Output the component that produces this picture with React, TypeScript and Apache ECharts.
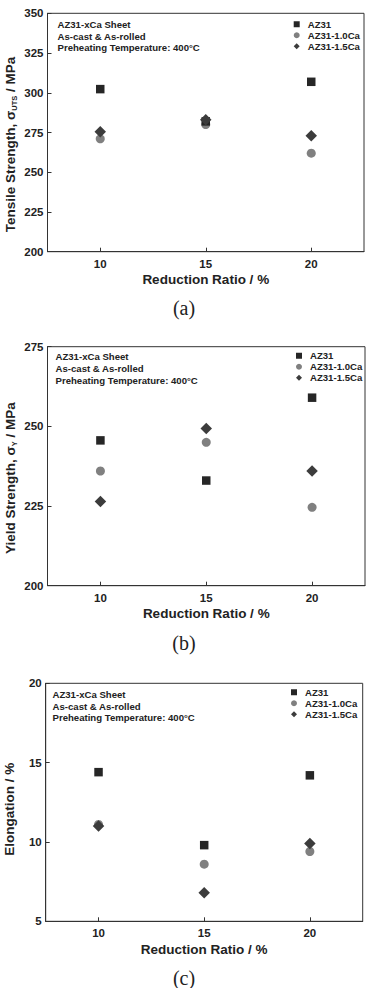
import React, { useEffect, useRef } from "react";
import * as echarts from "echarts";

// Reduction ratio (%) on the x axis, shared by the three panels
const reductionRatios = [10, 15, 20];
const alloyNames = ["AZ31", "AZ31-1.0Ca", "AZ31-1.5Ca"];

// (a) tensile strength, MPa
const tensileAZ31 = [302.3, 282, 306.9];
const tensileCa10 = [271, 280, 262];
const tensileCa15 = [275.5, 283, 273];

// (b) yield strength, MPa
const yieldAZ31 = [245.6, 233, 259];
const yieldCa10 = [236, 245, 224.6];
const yieldCa15 = [226.4, 249.3, 236];

// (c) elongation, %
const elongAZ31 = [14.4, 9.8, 14.2];
const elongCa10 = [11.1, 8.6, 9.4];
const elongCa15 = [11.0, 6.8, 9.9];

// y-axis ranges: [min, max, interval]
const tensileRange = [200, 350, 25];
const yieldRange = [200, 275, 25];
const elongRange = [5, 20, 5];

const noteLines = ["AZ31-xCa Sheet", "As-cast & As-rolled", "Preheating Temperature: 400°C"];
const captions = ["(a)", "(b)", "(c)"];
const xTitle = "Reduction Ratio / %";

const SANS = "'Liberation Sans', Arial, Helvetica, sans-serif";
const INK = "#222";
const AXIS = "#333";

const symbols = ["rect", "circle", "diamond"];
const symbolSizes = [8.5, 9, 11.5];
const markColors = ["#262626", "#808080", "#3c3c3c"];

type Panel = {
  grid: { left: number; top: number; width: number; height: number };
  range: number[];
  yName: string;
  nameGap: number;
  nameShift: number;
  values: number[][];
  note: { x: number; y: number };
  legend: { left: number; top: number };
  captionY: number;
};

const panels: Panel[] = [
  {
    grid: { left: 47.5, top: 13.3, width: 316.5, height: 238.4 },
    range: tensileRange,
    yName: "Tensile Strength, σ{sub|UTS} / MPa",
    nameGap: 29.5,
    nameShift: 24,
    values: [tensileAZ31, tensileCa10, tensileCa15],
    note: { x: 57.5, y: 24.3 },
    legend: { left: 293.7, top: 19 },
    captionY: 308,
  },
  {
    grid: { left: 47.5, top: 346.7, width: 317.5, height: 239 },
    range: yieldRange,
    yName: "Yield Strength, σ{sub|Y} / MPa",
    nameGap: 29.5,
    nameShift: 24,
    values: [yieldAZ31, yieldCa10, yieldCa15],
    note: { x: 55.5, y: 356.7 },
    legend: { left: 296, top: 350.5 },
    captionY: 643,
  },
  {
    grid: { left: 45.7, top: 683.3, width: 317, height: 238 },
    range: elongRange,
    yName: "Elongation / %",
    nameGap: 28,
    nameShift: 14,
    values: [elongAZ31, elongCa10, elongCa15],
    note: { x: 52.5, y: 694.3 },
    legend: { left: 291, top: 687 },
    captionY: 978,
  },
];

function buildOption() {
  const grid: any[] = [];
  const xAxis: any[] = [];
  const yAxis: any[] = [];
  const series: any[] = [];
  const legend: any[] = [];
  const graphic: any[] = [];

  panels.forEach((p, i) => {
    grid.push({
      ...p.grid,
      containLabel: false,
      outerBoundsMode: "none",
      show: true,
      borderColor: AXIS,
      borderWidth: 1,
      backgroundColor: "transparent",
    });

    xAxis.push({
      type: "value",
      gridIndex: i,
      min: 7.5,
      max: 22.5,
      name: xTitle,
      nameLocation: "middle",
      nameGap: 21,
      nameTextStyle: { fontFamily: SANS, fontWeight: "bold", fontSize: 13.5, color: INK },
      axisLine: { show: true, lineStyle: { color: AXIS, width: 1 } },
      axisTick: { show: true, inside: true, length: 4, customValues: reductionRatios, lineStyle: { color: AXIS } },
      axisLabel: {
        customValues: reductionRatios,
        margin: 6,
        fontFamily: SANS,
        fontWeight: "bold",
        fontSize: 11.5,
        color: INK,
      },
      splitLine: { show: false },
    });

    yAxis.push({
      type: "value",
      gridIndex: i,
      min: p.range[0],
      max: p.range[1],
      interval: p.range[2],
      name: p.yName,
      nameLocation: "middle",
      nameGap: p.nameGap,
      nameMoveOverlap: false,
      nameTextStyle: {
        fontFamily: SANS,
        fontWeight: "bold",
        fontSize: 13.5,
        lineHeight: 16,
        color: INK,
        // extra room on the text's trailing side nudges the centred title downwards
        padding: [0, p.nameShift, 0, 0],
        rich: {
          sub: {
            fontFamily: SANS,
            fontWeight: "bold",
            fontSize: 7.5,
            lineHeight: 16,
            color: INK,
            verticalAlign: "bottom",
          },
        },
      },
      axisLine: { show: true, lineStyle: { color: AXIS, width: 1 } },
      axisTick: { show: true, inside: true, length: 4, lineStyle: { color: AXIS } },
      axisLabel: {
        margin: 4,
        fontFamily: SANS,
        fontWeight: "bold",
        fontSize: 11.5,
        color: INK,
      },
      splitLine: { show: false },
    });

    alloyNames.forEach((name, k) => {
      series.push({
        type: "scatter",
        name,
        xAxisIndex: i,
        yAxisIndex: i,
        symbol: symbols[k],
        symbolSize: symbolSizes[k],
        itemStyle: { color: markColors[k], opacity: 1 },
        z: k === 1 ? 2 : k === 0 ? 3 : 4,
        data: reductionRatios.map((r, j) => [r, p.values[k][j]]),
      });
    });

    legend.push({
      orient: "vertical",
      left: p.legend.left,
      top: p.legend.top,
      padding: 0,
      itemWidth: 6,
      itemHeight: 6,
      itemGap: 0.5,
      selectedMode: false,
      data: alloyNames.map((name, k) => ({
        name,
        icon: symbols[k],
        itemStyle: { color: markColors[k] },
      })),
      textStyle: {
        fontFamily: SANS,
        fontWeight: "bold",
        fontSize: 9.6,
        color: INK,
        lineHeight: 10.5,
        padding: [0, 0, 0, 3],
      },
    });

    noteLines.forEach((line, n) => {
      graphic.push({
        type: "text",
        x: p.note.x,
        y: p.note.y + n * 11.8,
        style: {
          text: line,
          fontFamily: SANS,
          fontWeight: "bold",
          fontSize: 9.6,
          fill: INK,
          textAlign: "left",
          textVerticalAlign: "middle",
        },
      });
    });

    graphic.push({
      type: "text",
      x: 184,
      y: p.captionY,
      style: {
        text: captions[i],
        fontFamily: "'Liberation Serif', 'Times New Roman', serif",
        fontSize: 20,
        fill: INK,
        textAlign: "center",
        textVerticalAlign: "middle",
      },
    });
  });

  return {
    animation: false,
    backgroundColor: "#fff",
    grid,
    xAxis,
    yAxis,
    series,
    legend,
    graphic,
  };
}

export default function App() {
  const ref = useRef<HTMLDivElement>(null);

  useEffect(() => {
    if (!ref.current) return;
    const chart = echarts.init(ref.current, null, { renderer: "svg" });
    chart.setOption(buildOption() as any);
    return () => chart.dispose();
  }, []);

  return (
    <div
      ref={ref}
      style={{ position: "fixed", left: 0, top: 0, width: 368, height: 988, background: "#fff" }}
    />
  );
}
